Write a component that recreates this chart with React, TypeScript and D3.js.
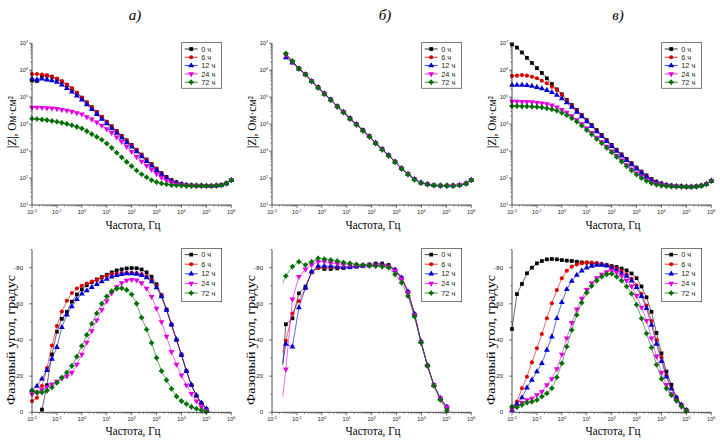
import React from "react";
import * as d3 from "d3";

const hours = ["0 ч", "6 ч", "12 ч", "24 ч", "72 ч"];
const colors = ["#000000", "#e00000", "#0000d0", "#e000e0", "#006e00"];
const titles = ["а)", "б)", "в)"];

// частоты, Гц (5 точек на декаду для а) и в))
const freqAC = [
  0.01, 0.0158, 0.0251, 0.0398, 0.0631, 0.1, 0.158, 0.251, 0.398, 0.631,
  1, 1.58, 2.51, 3.98, 6.31, 10, 15.8, 25.1, 39.8, 63.1,
  100, 158, 251, 398, 631, 1000, 1580, 2510, 3980, 6310,
  10000, 15800, 25100, 39800, 63100, 100000, 158000, 251000, 398000, 631000, 1000000,
];
const freqB = [
  0.027, 0.036, 0.066, 0.12, 0.22, 0.39, 0.71, 1.26, 2.29, 4.17,
  7.4, 13.5, 24.5, 44.7, 81, 145, 263, 479, 871, 1580,
  2880, 5250, 9550, 17400, 31600, 57500, 105000, 186000, 339000, 617000, 1000000,
];

// lg|Z|, Ом·см², панель а)
const lgZa0 = [
  5.62, 5.6, 5.8, 5.8, 5.76, 5.68, 5.58, 5.46, 5.32, 5.16,
  4.98, 4.8, 4.63, 4.45, 4.27, 4.09, 3.92, 3.75, 3.57, 3.4,
  3.23, 3.05, 2.87, 2.69, 2.52, 2.35, 2.18, 2.04, 1.92, 1.84,
  1.78, 1.75, 1.73, 1.72, 1.72, 1.71, 1.71, 1.72, 1.74, 1.8, 1.92,
];
const lgZa6 = [
  5.86, 5.86, 5.84, 5.81, 5.77, 5.69, 5.59, 5.47, 5.33, 5.17,
  4.99, 4.81, 4.63, 4.45, 4.27, 4.09, 3.91, 3.74, 3.56, 3.39,
  3.22, 3.04, 2.86, 2.68, 2.51, 2.34, 2.17, 2.03, 1.92, 1.84,
  1.78, 1.75, 1.73, 1.72, 1.72, 1.71, 1.71, 1.72, 1.74, 1.8, 1.92,
];
const lgZa12 = [
  5.68, 5.65, 5.68, 5.65, 5.62, 5.56, 5.46, 5.33, 5.2, 5.05,
  4.9, 4.73, 4.55, 4.37, 4.19, 4.02, 3.84, 3.67, 3.49, 3.32,
  3.16, 2.98, 2.8, 2.62, 2.45, 2.29, 2.13, 2.0, 1.89, 1.82,
  1.77, 1.74, 1.73, 1.72, 1.72, 1.71, 1.71, 1.72, 1.74, 1.8, 1.92,
];
const lgZa24 = [
  4.62, 4.62, 4.61, 4.6, 4.59, 4.57, 4.54, 4.51, 4.47, 4.42,
  4.37, 4.27, 4.18, 4.07, 3.95, 3.82, 3.68, 3.52, 3.35, 3.17,
  2.98, 2.79, 2.62, 2.46, 2.31, 2.16, 2.02, 1.91, 1.83, 1.77,
  1.74, 1.72, 1.72, 1.71, 1.71, 1.71, 1.71, 1.72, 1.74, 1.8, 1.92,
];
const lgZa72 = [
  4.2, 4.19, 4.17, 4.15, 4.12, 4.09, 4.05, 4.01, 3.96, 3.9,
  3.84, 3.74, 3.63, 3.53, 3.42, 3.28, 3.12, 2.94, 2.77, 2.6,
  2.44, 2.28, 2.14, 2.03, 1.92, 1.85, 1.8, 1.77, 1.74, 1.73,
  1.72, 1.71, 1.71, 1.71, 1.71, 1.71, 1.71, 1.72, 1.74, 1.8, 1.92,
];

// lg|Z|, панель б)
const lgZb0 = [
  null, 6.6, 6.32, 6.07, 5.86, 5.6, 5.37, 5.14, 4.92, 4.67,
  4.46, 4.22, 4.0, 3.78, 3.56, 3.31, 3.08, 2.85, 2.61, 2.36,
  2.15, 1.96, 1.83, 1.77, 1.73, 1.72, 1.72, 1.72, 1.74, 1.8, 1.93,
];
const lgZb6 = [
  null, 6.58, 6.31, 6.06, 5.85, 5.59, 5.36, 5.13, 4.91, 4.66,
  4.45, 4.21, 3.99, 3.77, 3.55, 3.3, 3.07, 2.84, 2.6, 2.35,
  2.14, 1.95, 1.82, 1.76, 1.73, 1.72, 1.72, 1.72, 1.74, 1.8, 1.93,
];
const lgZb12 = [
  null, 6.47, 6.28, 6.05, 5.84, 5.59, 5.36, 5.13, 4.91, 4.66,
  4.45, 4.21, 3.99, 3.77, 3.55, 3.3, 3.07, 2.84, 2.6, 2.36,
  2.15, 1.96, 1.83, 1.77, 1.73, 1.72, 1.72, 1.72, 1.74, 1.8, 1.93,
];
const lgZb24 = [
  null, 6.58, 6.31, 6.06, 5.85, 5.59, 5.36, 5.13, 4.9, 4.65,
  4.44, 4.2, 3.98, 3.76, 3.54, 3.29, 3.06, 2.83, 2.6, 2.35,
  2.14, 1.95, 1.83, 1.77, 1.73, 1.72, 1.72, 1.72, 1.74, 1.8, 1.93,
];
const lgZb72 = [
  null, 6.62, 6.34, 6.06, 5.84, 5.58, 5.35, 5.11, 4.89, 4.64,
  4.43, 4.19, 3.97, 3.75, 3.53, 3.28, 3.05, 2.82, 2.59, 2.34,
  2.13, 1.94, 1.82, 1.76, 1.73, 1.72, 1.71, 1.71, 1.73, 1.79, 1.92,
];

// lg|Z|, панель в)
const lgZc0 = [
  6.96, 6.84, 6.66, 6.46, 6.27, 6.08, 5.9, 5.7, 5.49, 5.29,
  5.11, 4.9, 4.71, 4.53, 4.34, 4.15, 3.97, 3.78, 3.6, 3.41,
  3.23, 3.05, 2.88, 2.71, 2.55, 2.39, 2.24, 2.1, 1.97, 1.87,
  1.8, 1.75, 1.72, 1.7, 1.69, 1.68, 1.68, 1.69, 1.72, 1.78, 1.9,
];
const lgZc6 = [
  5.79, 5.8, 5.82, 5.8, 5.76, 5.7, 5.61, 5.52, 5.39, 5.27,
  5.08, 4.88, 4.69, 4.51, 4.32, 4.13, 3.95, 3.76, 3.58, 3.39,
  3.21, 3.03, 2.86, 2.69, 2.53, 2.37, 2.22, 2.08, 1.96, 1.86,
  1.79, 1.75, 1.72, 1.7, 1.69, 1.68, 1.68, 1.69, 1.72, 1.78, 1.9,
];
const lgZc12 = [
  5.45, 5.45, 5.45, 5.44, 5.41, 5.37, 5.32, 5.26, 5.18, 5.08,
  4.95, 4.8, 4.63, 4.45, 4.28, 4.1, 3.92, 3.73, 3.55, 3.36,
  3.18, 3.0, 2.83, 2.66, 2.5, 2.34, 2.19, 2.05, 1.93, 1.84,
  1.78, 1.74, 1.71, 1.7, 1.69, 1.68, 1.68, 1.69, 1.72, 1.78, 1.9,
];
const lgZc24 = [
  4.84, 4.84, 4.83, 4.83, 4.82, 4.8, 4.78, 4.75, 4.7, 4.63,
  4.54, 4.43, 4.3, 4.16, 4.01, 3.85, 3.68, 3.51, 3.34, 3.17,
  3.0, 2.83, 2.66, 2.49, 2.33, 2.18, 2.05, 1.93, 1.84, 1.78,
  1.74, 1.72, 1.7, 1.69, 1.68, 1.68, 1.68, 1.69, 1.72, 1.78, 1.9,
];
const lgZc72 = [
  4.67, 4.67, 4.66, 4.66, 4.65, 4.64, 4.62, 4.59, 4.55, 4.5,
  4.42, 4.33, 4.22, 4.09, 3.94, 3.78, 3.62, 3.45, 3.29, 3.12,
  2.95, 2.78, 2.61, 2.44, 2.28, 2.13, 2.0, 1.89, 1.81, 1.75,
  1.72, 1.7, 1.69, 1.68, 1.68, 1.67, 1.67, 1.68, 1.71, 1.77, 1.89,
];

// фазовый угол, градус, панель а)
const phA0 = [
  null, 8, -1.5, -15, -32, -44.6, -51.7, -55.5, -61.2, -65.2,
  -68, -70.3, -72, -73.5, -74.8, -76.1, -77.4, -78.5, -79.1, -79.6,
  -79.8, -79.7, -79, -77.4, -75, -70.8, -64.8, -56.8, -48.5, -40,
  -32, -22.8, -15, -9.1, -5, -1.8, 1,
];
const phA6 = [
  -6.2, -8, -14.5, -24.5, -37, -47.7, -55.7, -61.7, -66, -68.5,
  -70, -71.2, -72.3, -73.2, -74.3, -75.5, -76.3, -76.8, -77.1, -77.2,
  -77.2, -77, -76.4, -75.2, -73, -69.8, -64.5, -56.8, -48.5, -40,
  -31.8, -22.8, -15, -9.1, -5, -1.8, 1,
];
const phA12 = [
  -12, -14.5, -18.5, -23.3, -29.5, -36, -47, -54, -58.5, -62.5,
  -65.5, -67.3, -69.2, -70.8, -72.3, -73.7, -75, -75.8, -76.4, -76.7,
  -76.7, -76.5, -75.8, -74.5, -72.3, -69, -64, -56.5, -48.5, -40.3,
  -31.7, -22.8, -15.2, -9.3, -5.2, -2, 1,
];
const phA24 = [
  -10, -11, -12.5, -14, -15.5, -17, -18.8, -20, -22, -26.5,
  -32, -38.7, -45, -51, -56.7, -61.5, -66, -69.4, -71.6, -73,
  -73.4, -73.1, -71.5, -68.5, -64, -57.5, -50, -42, -33.5, -26.5,
  -20.5, -15, -10.3, -6.2, -3, -1, 1,
];
const phA72 = [
  -12.2, -11, -11, -12, -13.8, -16.4, -19.2, -22, -25.7, -30.8,
  -36.7, -42.8, -49, -54.8, -60.1, -64.1, -67, -68.4, -68.7, -67.7,
  -65.2, -60.1, -52.4, -45.8, -38.4, -30.1, -22.8, -17.8, -13, -8.8,
  -6.2, -4.6, -3, -2, -1.2, -0.3, 1,
];

// фазовый угол, панель б)
const phB0 = [
  -26, -48.7, -52, -65.8, -69.5, -77.4, -80, -79.3, -79.3, -79.6,
  -79.8, -80.2, -80.6, -81.2, -81.8, -82.3, -82.3, -81.5, -78.7, -74.3,
  -66.5, -54.2, -39, -25.8, -14.9, -7.4, -2.6,
];
const phB6 = [
  -33, -39.6, -54.7, -61.6, -68.6, -77.6, -80, -80.2, -80.2, -80.2,
  -80.3, -80.5, -80.8, -81, -81.5, -81.8, -81.8, -81.2, -79, -74.6,
  -66.7, -54.2, -39, -25.8, -14.9, -7.6, -2.8,
];
const phB12 = [
  -27, -37.8, -36.3, -57.9, -68.9, -77.8, -80.9, -80.9, -80.9, -80.6,
  -80.2, -80.4, -80.6, -80.9, -81.2, -81.5, -81.4, -80.8, -78.8, -74.5,
  -66.8, -54.4, -39.2, -26, -15, -7.8, -3,
];
const phB24 = [
  -8.7, -23.8, -62.5, -75, -79.1, -81.5, -83.3, -83.3, -82.6, -82.2,
  -81.8, -81.5, -81.3, -81.2, -81.2, -81.2, -81, -80.4, -78.3, -73.8,
  -66.2, -53.8, -38.8, -25.8, -15, -7.8, -2.8,
];
const phB72 = [
  -71.7, -75.4, -80.6, -83.3, -81.5, -83.3, -85.2, -84.8, -84.2, -83.7,
  -82.9, -82.4, -81.8, -81.5, -81.1, -80.9, -80.6, -80, -76.3, -71.7,
  -64.3, -52.9, -38.5, -25.8, -14.7, -6.8, -0.9,
];

// фазовый угол, панель в)
const phC0 = [
  -46.1, -65.4, -71, -76.9, -80, -82.4, -83.7, -84.6, -84.8, -84.6,
  -84.2, -83.9, -83.7, -83.3, -82.9, -82.8, -82.4, -82.2, -81.8, -81.4,
  -80.9, -80.4, -79.5, -78.5, -76.8, -74.2, -69.6, -63.6, -55.6, -43.9,
  -32.6, -22.5, -15.2, -8, -4, -1.2, 1,
];
const phC6 = [
  -3.1, -5.9, -13.3, -19.7, -27.6, -35.4, -43.3, -52, -60.3, -67.6,
  -74.1, -78.3, -80.6, -81.8, -82.4, -82.8, -82.8, -82.6, -82, -81.3,
  -80.4, -79.5, -78.1, -76.3, -73.8, -70.3, -65.5, -59.1, -50.5, -40,
  -30.5, -20.5, -13.5, -8.5, -4.3, -1.4, 1,
];
const phC12 = [
  -1.3, -4.5, -8.1, -13.6, -17.9, -22.5, -27.1, -34.5, -41.8, -52,
  -60.8, -68, -72.6, -75.9, -78.3, -80, -80.9, -81.5, -81.5, -81.1,
  -79.8, -78.6, -76.7, -75.4, -72.7, -69.1, -64.2, -57.5, -48.3, -37.8,
  -28.2, -19.6, -13, -8, -4, -1.2, 1,
];
const phC24 = [
  -1.7, -3.1, -5.3, -6.8, -7.7, -9.6, -11.4, -15.1, -18.5, -24,
  -32, -41, -49.5, -57, -63, -67.8, -71.5, -74.3, -76.3, -77.6,
  -78.6, -77.3, -75.5, -72.9, -69.7, -64.5, -58, -50.7, -41, -31,
  -22, -15.2, -10.2, -6.5, -3.2, -0.8, 1,
];
const phC72 = [
  -3.1, -2.8, -4.1, -5.3, -5.9, -6.8, -8.7, -10.5, -13.3, -19.4,
  -27.1, -36.3, -45.5, -53.8, -60.6, -66.2, -69.9, -72.8, -75, -76.3,
  -76.7, -75, -72.8, -69.6, -65.6, -59.5, -51.9, -43.6, -35.8, -26.3,
  -18.5, -13.2, -9.5, -6.5, -3.2, -0.8, 1,
];

const zDecades = [1, 2, 3, 4, 5, 6, 7];
const fDecades = [-2, -1, 0, 1, 2, 3, 4, 5, 6];
const phTicks = [0, -20, -40, -60, -80];

const colX = [32, 272, 512];
const PW = 199.3;
const ROWS = [
  { y0: 43.3, y1: 205 },
  { y0: 249.6, y1: 412.3 },
];

// ромбовидный маркер с вогнутыми сторонами, как у серии 72 ч
const star4 = {
  draw(ctx: any, size: number) {
    const r = Math.sqrt(size) * 0.68;
    const ri = r * 0.62;
    for (let k = 0; k < 8; k++) {
      const a = (k * Math.PI) / 4 - Math.PI / 2;
      const rr = k % 2 === 0 ? r : ri;
      if (k === 0) ctx.moveTo(rr * Math.cos(a), rr * Math.sin(a));
      else ctx.lineTo(rr * Math.cos(a), rr * Math.sin(a));
    }
    ctx.closePath();
  },
};
const symTypes: any[] = [d3.symbolSquare, d3.symbolCircle, d3.symbolTriangle, d3.symbolTriangle, star4];
const symSizes = [14, 13, 15, 15, 20];
const symRot = [0, 0, 0, 180, 0];
const symPaths = symTypes.map((t, k) => d3.symbol(t, symSizes[k])() as string);

const serif = "'Liberation Serif', 'Times New Roman', serif";
const sans = "'Liberation Sans', Arial, sans-serif";

type PanelProps = {
  col: number;
  row: number;
  freq: number[];
  series: (number | null)[][];
  markFrom: number;
};

const Marker = ({ k, x, y }: { k: number; x: number; y: number }) => (
  <path d={symPaths[k]} transform={`translate(${x},${y}) rotate(${symRot[k]})`} fill={colors[k]} />
);

const Panel = ({ col, row, freq, series, markFrom }: PanelProps) => {
  const x0 = colX[col];
  const { y0, y1 } = ROWS[row];
  const top = row === 0;
  const x = d3.scaleLog().domain([1e-2, 1e6]).range([x0, x0 + PW]);
  const y: any = top
    ? d3.scaleLog().domain([10, 1e7]).range([y1, y0])
    : d3.scaleLinear().domain([0, -90]).range([y1, y0]);
  const val = (v: number) => (top ? Math.pow(10, v) : v);
  const clipId = `clip-${row}-${col}`;

  const line = d3
    .line<[number, number | null]>()
    .defined((d) => d[1] != null)
    .x((d) => x(d[0]))
    .y((d) => y(val(d[1] as number)));

  const minorX: number[] = [];
  fDecades.slice(0, -1).forEach((e) => {
    for (let m = 2; m < 10; m++) minorX.push(m * Math.pow(10, e));
  });
  const minorY: number[] = [];
  if (top) {
    zDecades.slice(0, -1).forEach((e) => {
      for (let m = 2; m < 10; m++) minorY.push(m * Math.pow(10, e));
    });
  } else {
    [-10, -30, -50, -70, -90].forEach((v) => minorY.push(v));
  }

  const legX = x0 + 149.7;
  const legY = top ? 42.7 : 248.3;
  const legStep = top ? 8.3 : 9.6;
  const legH = top ? 45.5 : 53.4;

  return (
    <g>
      <defs>
        <clipPath id={clipId}>
          <rect x={x0} y={y0} width={PW} height={y1 - y0} />
        </clipPath>
      </defs>
      {series.map((s, k) => {
        const pts = s.map((v, i) => [freq[i], v] as [number, number | null]);
        return (
          <g key={k}>
            <path d={line(pts) as string} fill="none" stroke={colors[k]} strokeWidth={0.8} strokeOpacity={0.75} clipPath={`url(#${clipId})`} />
            {pts.map((p, i) =>
              p[1] == null || i < markFrom || (!top && (p[1] as number) > 0.3) ? null : (
                <Marker key={i} k={k} x={x(p[0])} y={y(val(p[1] as number))} />
              )
            )}
          </g>
        );
      })}
      {/* оси */}
      <line x1={x0} x2={x0} y1={y0} y2={y1} stroke="#222" strokeWidth={0.8} />
      <line x1={x0} x2={x0 + PW} y1={y1} y2={y1} stroke="#222" strokeWidth={0.8} />
      {fDecades.map((e) => (
        <g key={e}>
          <line x1={x(Math.pow(10, e))} x2={x(Math.pow(10, e))} y1={y1} y2={y1 + 3} stroke="#222" strokeWidth={0.6} />
          <text x={x(Math.pow(10, e))} y={y1 + 9} textAnchor="middle" fontSize={5.6} fontFamily={sans} fill="#222">
            10<tspan dy={-2.4} fontSize={3.8}>{e}</tspan>
          </text>
        </g>
      ))}
      {minorX.map((v) => (
        <line key={v} x1={x(v)} x2={x(v)} y1={y1} y2={y1 + 1.6} stroke="#222" strokeWidth={0.5} />
      ))}
      {top
        ? zDecades.map((e) => (
            <g key={e}>
              <line x1={x0 - 3} x2={x0} y1={y(Math.pow(10, e))} y2={y(Math.pow(10, e))} stroke="#222" strokeWidth={0.6} />
              <text x={x0 - 4} y={y(Math.pow(10, e)) + 2} textAnchor="end" fontSize={5.6} fontFamily={sans} fill="#222">
                10<tspan dy={-2.4} fontSize={3.8}>{e}</tspan>
              </text>
            </g>
          ))
        : phTicks.map((v) => (
            <g key={v}>
              <line x1={x0 - 3} x2={x0} y1={y(v)} y2={y(v)} stroke="#222" strokeWidth={0.6} />
              <text x={x0 - 9} y={y(v) + 2} textAnchor="end" fontSize={6} fontFamily={sans} fill="#222">
                {v}
              </text>
            </g>
          ))}
      {minorY.map((v) => (
        <line key={v} x1={x0 - 1.6} x2={x0} y1={y(v)} y2={y(v)} stroke="#222" strokeWidth={0.5} />
      ))}
      {/* подписи осей */}
      <text x={x0 + 101} y={top ? 228.5 : 434.5} textAnchor="middle" fontSize={12.5} fontFamily={serif} textLength={55} lengthAdjust="spacingAndGlyphs">
        Частота, Гц
      </text>
      {top ? (
        <text transform={`translate(${x0 - 16.5},122) rotate(-90)`} textAnchor="middle" fontSize={12} fontFamily={serif} textLength={52} lengthAdjust="spacingAndGlyphs">
          |Z|, Ом·см²
        </text>
      ) : (
        <text transform={`translate(${x0 - 17},340) rotate(-90)`} textAnchor="middle" fontSize={12} fontFamily={serif} textLength={130} lengthAdjust="spacingAndGlyphs">
          Фазовый угол, градус
        </text>
      )}
      {/* легенда */}
      <rect x={legX} y={legY} width={40} height={legH} fill="#fff" stroke="#222" strokeWidth={0.6} />
      {hours.map((h, k) => {
        const ly = legY + 6.3 + k * legStep;
        return (
          <g key={h}>
            <line x1={legX + 3} x2={legX + 16} y1={ly} y2={ly} stroke={colors[k]} strokeWidth={0.8} />
            <Marker k={k} x={legX + 9.5} y={ly} />
            <text x={legX + 19.5} y={ly + 2.6} fontSize={7.4} fontFamily={sans} fill="#222">
              {h}
            </text>
          </g>
        );
      })}
    </g>
  );
};

const App = () => {
  const zSeries = [
    [lgZa0, lgZa6, lgZa12, lgZa24, lgZa72],
    [lgZb0, lgZb6, lgZb12, lgZb24, lgZb72],
    [lgZc0, lgZc6, lgZc12, lgZc24, lgZc72],
  ];
  const phSeries = [
    [phA0, phA6, phA12, phA24, phA72],
    [phB0, phB6, phB12, phB24, phB72],
    [phC0, phC6, phC12, phC24, phC72],
  ];
  const freqs = [freqAC, freqB, freqAC];
  const titleX = [135, 385, 618];
  return (
    <svg width={720} height={440} style={{ position: "absolute", left: 0, top: 0, background: "#fff" }}>
      {titles.map((t, c) => (
        <text key={t} x={titleX[c]} y={19.5} textAnchor="middle" fontSize={15} fontStyle="italic" fontFamily={serif}>
          {t}
        </text>
      ))}
      {[0, 1, 2].map((c) => (
        <g key={c}>
          <Panel col={c} row={0} freq={freqs[c]} series={zSeries[c]} markFrom={0} />
          <Panel col={c} row={1} freq={freqs[c]} series={phSeries[c]} markFrom={c === 1 ? 1 : 0} />
        </g>
      ))}
    </svg>
  );
};

export default App;
